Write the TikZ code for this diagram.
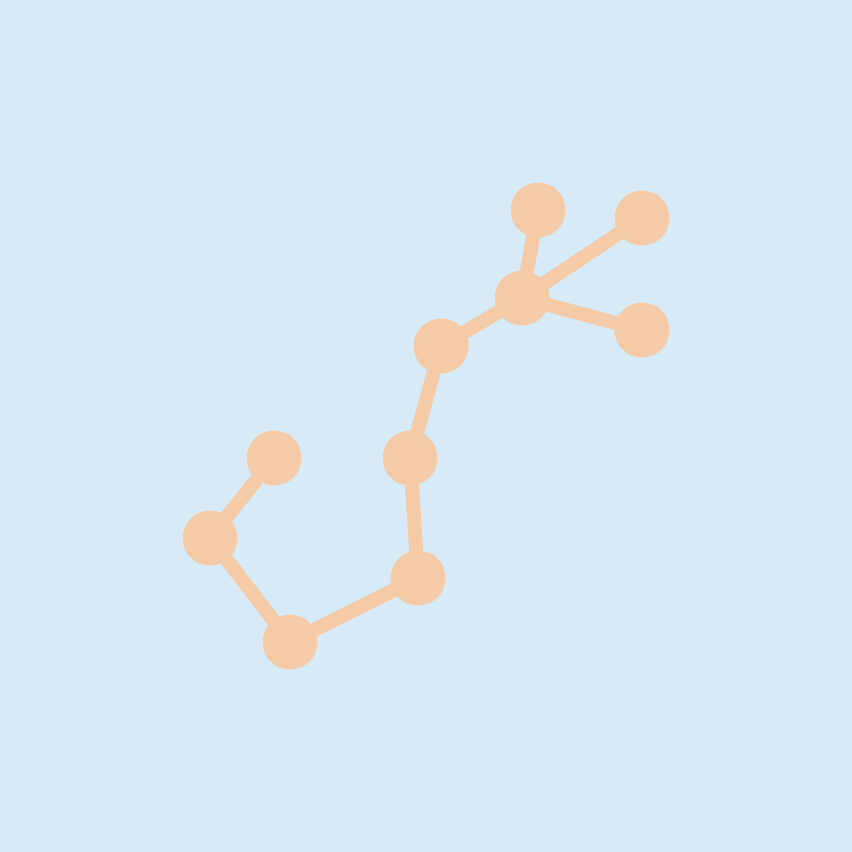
\documentclass[tikz,border=0pt]{standalone}
\definecolor{bg}{HTML}{D6EAF8}
\definecolor{peach}{HTML}{F5CBA7}
\begin{document}
\begin{tikzpicture}[x=1pt,y=-1pt,
  star/.style={circle,fill=peach,minimum size=55pt,inner sep=0pt},
  link/.style={draw=peach,line width=14pt}]
\fill[bg] (0,0) rectangle (852,852);
\useasboundingbox (0,0) rectangle (852,852);
\coordinate (A) at (538,210);
\coordinate (B) at (642,218);
\coordinate (C) at (522,298);
\coordinate (D) at (642,330);
\coordinate (E) at (441,346);
\coordinate (F) at (410,458);
\coordinate (G) at (418,578);
\coordinate (H) at (290,642);
\coordinate (I) at (210,538);
\coordinate (J) at (274,458);
\draw[link] (C)--(A) (C)--(B) (C)--(D) (C)--(E)--(F)--(G)--(H)--(I)--(J);
\foreach \n in {A,B,C,D,E,F,G,H,I,J} \node[star] (n\n) at (\n) {};
\end{tikzpicture}
\end{document}
